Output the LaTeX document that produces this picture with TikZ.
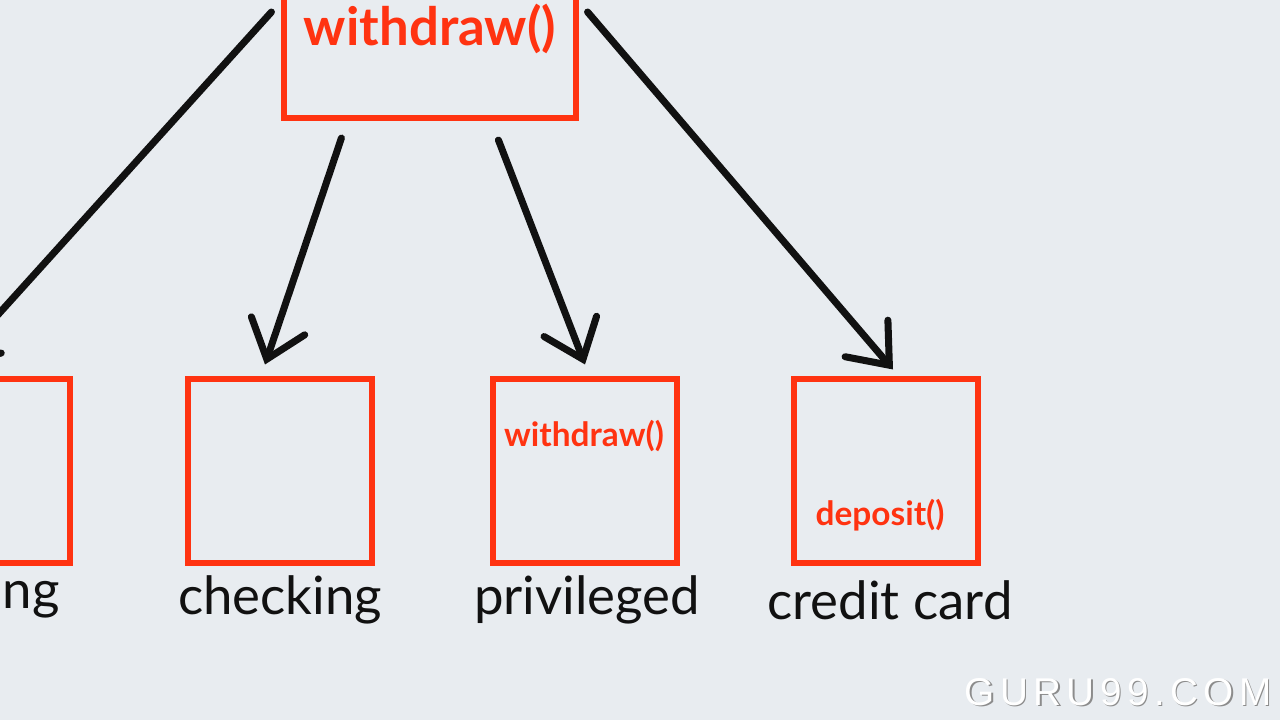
\documentclass[tikz,border=0pt]{standalone}
\usepackage{fontspec}
\setmainfont{Lato}
\newfontfamily\wmfont[LetterSpace=14]{Liberation Sans}
\usetikzlibrary{arrows.meta,positioning}

\definecolor{paper}{HTML}{E8ECF0}
\definecolor{boxred}{HTML}{FF3311}
\definecolor{inkblack}{HTML}{111111}

\tikzset{
  classbox/.style={draw=boxred, line width=1.7pt, minimum width=1.84cm, minimum height=1.83cm, inner sep=0pt},
  link/.style={draw=inkblack, line width=2pt, line cap=round, -{Straight Barb[length=10pt,width=16pt,line cap=round]}},
  lbl/.style={text=inkblack, font=\fontsize{15}{17}\selectfont},
  method/.style={text=boxred, font=\bfseries\fontsize{9.5}{11}\selectfont, inner sep=0pt}
}

\begin{document}
\begin{tikzpicture}[x=0.01cm,y=-0.01cm]
  \useasboundingbox (0,0) rectangle (1280,720);
  \clip (0,0) rectangle (1280,720);
  \fill[paper] (0,0) rectangle (1280,720);

  % parent class
  \node[classbox, minimum width=2.91cm, minimum height=1.78cm, text=boxred,
        font=\bfseries\fontsize{15}{17}\selectfont] (account) at (430,29) {withdraw()};

  % sub classes
  \node[classbox] (saving) at (-22,471) {};
  \node[classbox] (checking) at (280,471) {};
  \node[classbox] (privileged) at (585,471) {};
  \node[classbox] (credit) at (886,471) {};

  \node[method] at (584,436) {withdraw()};
  \node[method] at (880,515) {deposit()};

  % labels
  \node[lbl, anchor=west, inner sep=0pt] at (2,600) {ng};
  \node[lbl] at (280,600) {checking};
  \node[lbl] at (587,600) {privileged};
  \node[lbl] at (890,600) {credit card};

  % inheritance arrows
  \draw[link] ([shift={(-10,-17)}]account.west) -- ([shift={(-25,-12)}]saving.north);
  \draw[link] ([shift={(60,17)}]account.south west) -- ([shift={(-15,-12)}]checking.north);
  \draw[link] ([shift={(217,19)}]account.south west) -- ([shift={(0,-12)}]privileged.north);
  \draw[link] ([shift={(9,-17)}]account.east) -- ([shift={(7,-7)}]credit.north);

  % watermark
  \node[text=black!45, font=\wmfont\fontsize{11}{13}\selectfont] at (1119.5,693.5) {GURU99.COM};
  \node[text=white, font=\wmfont\fontsize{11}{13}\selectfont] (mark) at (1118,692) {GURU99.COM};
\end{tikzpicture}
\end{document}
